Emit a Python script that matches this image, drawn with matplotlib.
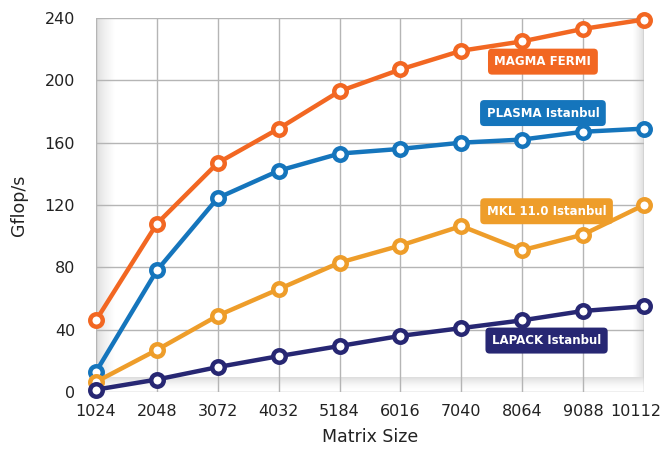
import matplotlib
matplotlib.use("Agg")
import matplotlib.pyplot as plt
from matplotlib.colors import LinearSegmentedColormap
from matplotlib.transforms import ScaledTranslation
import numpy as np

sizes = ["1024", "2048", "3072", "4032", "5184", "6016", "7040", "8064", "9088", "10112"]
magma = [46, 108, 147, 169, 193, 207, 219, 225, 233, 239]
plasma = [13, 78, 124.5, 142, 153, 156, 160, 162, 167, 169]
mkl = [6.5, 27, 49, 66, 83, 94, 106.5, 91, 101, 120]
lapack = [1.5, 8, 16, 23, 29.5, 36, 41, 46, 52, 55]

series_names = ["MAGMA FERMI", "PLASMA Istanbul", "MKL 11.0 Istanbul", "LAPACK Istanbul"]
series_vals = [magma, plasma, mkl, lapack]
colors = ["#F26722", "#1575BC", "#EE9D2A", "#272773"]
yticks = [0, 40, 80, 120, 160, 200, 240]

fig = plt.figure(figsize=(6.65, 4.51), dpi=100)
ax = fig.add_axes([96/665, 1-392/451, (644-96)/665, (392-18)/451])

x = np.arange(len(sizes))
ax.set_xlim(0, len(sizes)-1)
ax.set_ylim(0, 240)

# subtle shading near the plot edges
grad = np.linspace(0, 1, 256) ** 0.6
row = np.tile(grad, (2, 1))
cm_l = LinearSegmentedColormap.from_list("g", ["#d6d6d6", "#ffffff"])
ax.imshow(row, extent=[0, 0.3, 0, 240], aspect="auto", cmap=cm_l, zorder=0)
ax.imshow(row[:, ::-1], extent=[8.82, 9, 0, 240], aspect="auto", cmap=cm_l, zorder=0)
col = np.tile(np.linspace(0, 1, 256)[::-1] ** 2, (2, 1)).T
ax.imshow(col, extent=[0, 9, 0, 9], aspect="auto",
          cmap=LinearSegmentedColormap.from_list("g2", ["#ffffff", "#dcdcdc"]), zorder=0)

ax.set_xticks(x)
ax.set_xticklabels(sizes)
ax.set_yticks(yticks)
ax.grid(True, color="#b5b5b5", linewidth=1)
ax.set_axisbelow(True)
for s in ax.spines.values():
    s.set_visible(False)
ax.tick_params(length=0, labelsize=11.5, colors="#222222")
ax.tick_params(axis="y", pad=15)
ax.tick_params(axis="x", pad=9)
last = ax.get_xticklabels()[-1]
last.set_transform(last.get_transform() + ScaledTranslation(-8/100, 0, fig.dpi_scale_trans))

for vals, c in zip(series_vals, colors):
    ax.plot(x, vals, color=c, linewidth=3.2, marker="o", markersize=9,
            markerfacecolor="white", markeredgecolor=c, markeredgewidth=3.2,
            clip_on=False, zorder=3)

label_pos = [(7.34, 212), (7.34, 179), (7.4, 116), (7.4, 33)]
for name, c, (lx, ly) in zip(series_names, colors, label_pos):
    ax.text(lx, ly, name, color="white", fontsize=8.5, fontweight="bold",
            ha="center", va="center", zorder=5,
            bbox=dict(boxstyle="round,pad=0.55,rounding_size=0.35", fc=c, ec="none"))

ax.set_xlabel("Matrix Size", fontsize=12.5, color="#222222", labelpad=6)
ax.set_ylabel("Gflop/s", fontsize=12.5, color="#222222", labelpad=12)

fig.savefig("out.png", dpi=100)
